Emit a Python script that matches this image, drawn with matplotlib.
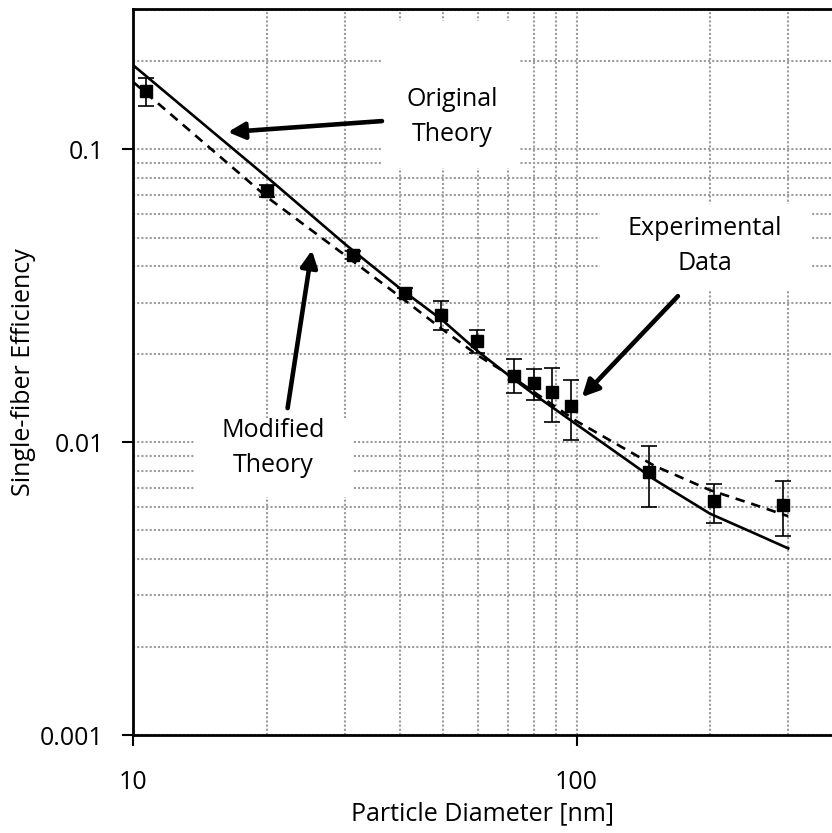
import matplotlib
matplotlib.use("Agg")
import matplotlib.pyplot as plt
from matplotlib.patches import Rectangle
from matplotlib.ticker import LogLocator, NullFormatter, FixedLocator, FixedFormatter

plt.rcParams['font.family'] = ['Open Sans', 'DejaVu Sans']

# particle diameter [nm] and single-fibre efficiency
d_theory = [10, 15, 20, 30, 40, 50, 60, 70, 80, 100, 150, 200, 250, 300]
eta_original = [0.194, 0.116, 0.0806, 0.0476, 0.0335, 0.0260, 0.0204, 0.0170, 0.0146,
                0.0115, 0.00745, 0.0057, 0.00491, 0.00434]
eta_modified = [0.170, 0.1003, 0.0689, 0.0436, 0.0314, 0.0242, 0.01975, 0.0171, 0.01487,
                0.0118, 0.0083, 0.00686, 0.00614, 0.00559]

d_exp = [10.7, 20, 31.3, 41, 49.4, 59.6, 72.2, 80, 87.8, 96.9, 146, 204, 292]
eta_exp = [0.158, 0.0722, 0.0436, 0.0324, 0.0272, 0.0221, 0.0169, 0.0159, 0.0148,
           0.0133, 0.0079, 0.0063, 0.0061]
eta_hi = [0.176, 0.0757, 0.0450, 0.0336, 0.0304, 0.0242, 0.0192, 0.0178, 0.0180,
          0.0163, 0.0097, 0.0072, 0.0074]
eta_lo = [0.1406, 0.0689, 0.0422, 0.0312, 0.0241, 0.0201, 0.0147, 0.0139, 0.0117,
          0.0102, 0.0060, 0.0053, 0.0048]

err = [[y - lo for y, lo in zip(eta_exp, eta_lo)],
       [hi - y for y, hi in zip(eta_exp, eta_hi)]]

fig = plt.figure(figsize=(8.32, 8.33), dpi=100)
ax = fig.add_axes([0.160, 0.1176, 0.840, 0.8712])
ax.set_xscale('log')
ax.set_yscale('log')
ax.set_xlim(10, 376.6)
ax.set_ylim(0.001, 0.301)

ax.plot(d_theory, eta_original, color='black', lw=1.9, zorder=3)
ax.plot(d_theory, eta_modified, color='black', lw=1.9, ls=(0, (3.6, 2.6)), zorder=3)
ax.errorbar(d_exp, eta_exp, yerr=err, fmt='s', color='black', ms=9,
            ecolor='black', elinewidth=1.2, capsize=6, capthick=1.2, zorder=4)

# ticks and grid
ax.xaxis.set_major_locator(FixedLocator([10, 100]))
ax.xaxis.set_major_formatter(FixedFormatter(['10', '100']))
ax.yaxis.set_major_locator(FixedLocator([0.001, 0.01, 0.1]))
ax.yaxis.set_major_formatter(FixedFormatter(['0.001', '0.01', '0.1']))
for axis in (ax.xaxis, ax.yaxis):
    axis.set_minor_locator(LogLocator(base=10, subs=range(2, 10)))
    axis.set_minor_formatter(NullFormatter())
ax.tick_params(which='major', direction='out', length=8, width=1.5, labelsize=18)
ax.tick_params(axis='x', which='major', pad=17)
ax.tick_params(axis='y', which='major', pad=13)
ax.tick_params(which='minor', length=0)
ax.set_axisbelow(True)
ax.grid(which='both', color='#9c9c9c', ls=(0, (1, 1)), lw=1.5)

for side in ('left', 'bottom', 'top'):
    ax.spines[side].set_linewidth(2)
ax.spines['right'].set_visible(False)

ax.set_xlabel('Particle Diameter [nm]', fontsize=18, labelpad=5)
ax.set_ylabel('Single-fiber Efficiency', fontsize=18, labelpad=3)

# callout boxes (white, hiding the grid behind the text)
boxes = [
    (0.356, 0.781, 0.1975, 0.203, ['Original', 'Theory'], 0.456, 0.876, 0.828),
    (0.0883, 0.328, 0.2247, 0.1088, ['Modified', 'Theory'], 0.200, 0.419, 0.371),
    (0.6679, 0.6132, 0.3007, 0.1185, ['Experimental', 'Data'], 0.818, 0.698, 0.650),
]
for x0, y0, w, h, lines, tx, ty1, ty2 in boxes:
    ax.add_patch(Rectangle((x0, y0), w, h, transform=ax.transAxes,
                           facecolor='white', edgecolor='none', zorder=1))
    ax.text(tx, ty1, lines[0], transform=ax.transAxes, ha='center', va='center',
            fontsize=18, zorder=2)
    ax.text(tx, ty2, lines[1], transform=ax.transAxes, ha='center', va='center',
            fontsize=18, zorder=2)

arrow = dict(arrowstyle='-|>', color='black', lw=3.3, mutation_scale=25,
             shrinkA=0, shrinkB=0)
ax.annotate('', xy=(16.35, 0.1146), xytext=(36.4, 0.125), arrowprops=arrow, zorder=5)
ax.annotate('', xy=(25.3, 0.0453), xytext=(22.3, 0.01308), arrowprops=arrow, zorder=5)
ax.annotate('', xy=(102.8, 0.01426), xytext=(169.2, 0.03155), arrowprops=arrow, zorder=5)

fig.savefig('out.png', dpi=100)
